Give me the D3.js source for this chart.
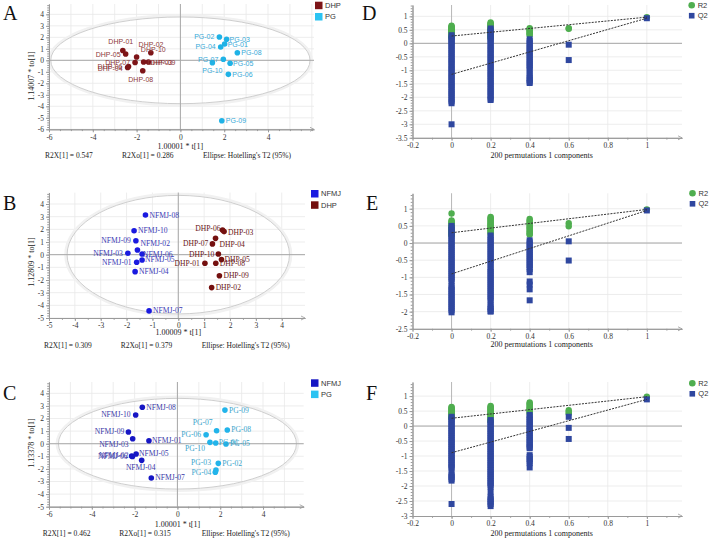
<!DOCTYPE html>
<html><head><meta charset="utf-8">
<script src="https://cdn.jsdelivr.net/npm/d3@7"></script>
<style>body{margin:0;background:#fff}svg{display:block}</style>
</head><body>
<svg id="c" width="709" height="538"></svg>
<script>
// ---------------- DATA ----------------
// Score plots (t[1], to[1])
const scoreA_DHP = [
 {id:"DHP-01",t:-2.63,to:0.85},{id:"DHP-05",t:-2.50,to:0.55},{id:"DHP-02",t:-2.00,to:0.29},
 {id:"DHP-10",t:-1.35,to:0.66},{id:"DHP-07",t:-2.07,to:-0.19},{id:"DHP-06",t:-2.37,to:-0.54},
 {id:"DHP-04",t:-2.41,to:-0.63},{id:"DHP-03",t:-1.68,to:-0.15},{id:"DHP-09",t:-1.46,to:-0.15},
 {id:"DHP-08",t:-1.72,to:-0.91}];
const scoreA_PG = [
 {id:"PG-02",t:1.78,to:2.03},{id:"PG-03",t:2.11,to:1.83},{id:"PG-01",t:2.02,to:1.42},
 {id:"PG-04",t:1.84,to:1.16},{id:"PG-08",t:2.60,to:0.66},{id:"PG-07",t:1.96,to:0.09},
 {id:"PG-10",t:1.46,to:-0.20},{id:"PG-05",t:2.27,to:-0.26},{id:"PG-06",t:2.19,to:-1.22},
 {id:"PG-09",t:1.89,to:-5.25}];
const scoreB_NFMJ = [
 {id:"NFMJ-08",t:-1.27,to:3.13},{id:"NFMJ-10",t:-1.71,to:1.89},{id:"NFMJ-09",t:-1.64,to:1.10},
 {id:"NFMJ-02",t:-1.58,to:0.37},{id:"NFMJ-06",t:-1.40,to:0.05},{id:"NFMJ-03",t:-1.95,to:0.11},
 {id:"NFMJ-01",t:-1.61,to:-0.60},{id:"NFMJ-05",t:-1.40,to:-0.42},{id:"NFMJ-04",t:-1.67,to:-1.34},
 {id:"NFMJ-07",t:-1.13,to:-4.44}];
const scoreB_DHP = [
 {id:"DHP-06",t:1.71,to:1.95},{id:"DHP-03",t:1.77,to:1.82},{id:"DHP-04",t:1.44,to:1.29},
 {id:"DHP-07",t:1.32,to:0.85},{id:"DHP-10",t:1.55,to:0.05},{id:"DHP-05",t:1.67,to:-0.39},
 {id:"DHP-08",t:1.45,to:-0.68},{id:"DHP-01",t:1.03,to:-0.68},{id:"DHP-09",t:1.59,to:-1.66},
 {id:"DHP-02",t:1.29,to:-2.60}];
const scoreC_NFMJ = [
 {id:"NFMJ-08",t:-1.64,to:2.89},{id:"NFMJ-10",t:-1.95,to:2.28},{id:"NFMJ-09",t:-2.29,to:0.93},
 {id:"NFMJ-03",t:-2.09,to:0.40},{id:"NFMJ-01",t:-1.33,to:0.24},{id:"NFMJ-06",t:-2.14,to:-0.98},
 {id:"NFMJ-02",t:-2.10,to:-1.02},{id:"NFMJ-05",t:-1.93,to:-0.82},{id:"NFMJ-04",t:-1.67,to:-1.32},
 {id:"NFMJ-07",t:-1.22,to:-2.72}];
const scoreC_PG = [
 {id:"PG-09",t:2.22,to:2.67},{id:"PG-07",t:1.83,to:1.03},{id:"PG-08",t:2.33,to:1.09},
 {id:"PG-06",t:1.34,to:0.71},{id:"PG-10",t:1.52,to:0.11},{id:"PG-01",t:1.79,to:0.06},
 {id:"PG-05",t:2.27,to:-0.02},{id:"PG-02",t:1.91,to:-1.56},{id:"PG-03",t:1.80,to:-2.10},
 {id:"PG-04",t:1.77,to:-2.26}];

const ticksA_x = [-6,-4,-2,0,2,4], ticksA_y = [-6,-5,-4,-3,-2,-1,0,1,2,3,4];
const ticksB_x = [-5,-4,-3,-2,-1,0,1,2,3,4], ticksB_y = [-5,-4,-3,-2,-1,0,1,2,3,4];
const ticksC_x = [-6,-4,-2,0,2,4], ticksC_y = [-5,-4,-3,-2,-1,0,1,2,3,4];

const footA = ["R2X[1] = 0.547","R2Xo[1] = 0.286","Ellipse: Hotelling's T2 (95%)"];
const footB = ["R2X[1] = 0.309","R2Xo[1] = 0.379","Ellipse: Hotelling's T2 (95%)"];
const footC = ["R2X[1] = 0.462","R2Xo[1] = 0.315","Ellipse: Hotelling's T2 (95%)"];
const ellipseA = [5.92, 3.77], ellipseB = [4.3, 4.68], ellipseC = [5.56, 3.6];

// Permutation plots
const permX = [0, 0.2, 0.4, 0.6, 1];
const permTicksX = [-0.2, 0, 0.2, 0.4, 0.6, 0.8, 1];
const D_R2 = [
 [0.65,0.62,0.60,0.57,0.55,0.52,0.50,0.48,0.46,0.44,0.42,0.40,0.38,0.35,0.33,0.30,0.28,0.25,0.22,0.20],
 [0.77,0.74,0.71,0.68,0.65,0.62,0.58,0.55,0.52,0.48,0.45,0.42,0.38,0.35,0.32,0.28,0.25,0.22,0.19],
 [0.56,0.52,0.48,0.45,0.41,0.37,0.33,0.31],
 [0.56,0.54],
 [0.97]];
const D_Q2 = [
 [0.30,0.22,0.15,0.08,0.02,-0.05,-0.12,-0.20,-0.27,-0.35,-0.42,-0.50,-0.58,-0.65,-0.72,-0.80,-0.88,-0.95,-1.02,-1.10,-1.18,-1.25,-1.32,-1.40,-1.48,-1.55,-1.62,-1.70,-1.78,-1.85,-1.92,-2.00,-2.08,-2.15,-2.22,-3.00],
 [0.55,0.48,0.42,0.35,0.28,0.20,0.13,0.06,-0.02,-0.10,-0.18,-0.25,-0.33,-0.40,-0.48,-0.55,-0.62,-0.70,-0.78,-0.85,-0.92,-1.00,-1.08,-1.15,-1.22,-1.30,-1.38,-1.45,-1.52,-1.60,-1.68,-1.75,-1.82,-1.90,-1.97,-2.05,-2.10],
 [0.15,0.08,0.00,-0.08,-0.15,-0.22,-0.30,-0.37,-0.45,-0.52,-0.60,-0.68,-0.75,-0.82,-0.90,-0.98,-1.12,-1.20,-1.30,-1.36,-1.42,-1.47],
 [-0.05,-0.62],
 [0.93]];
const D_lines = {r2:[0.27,0.97], q2:[-1.15,0.93]};
const D_ticksY = [-3.5,-3,-2.5,-2,-1.5,-1,-0.5,0,0.5,1];

const E_R2 = [
 [0.86,0.66,0.63,0.60,0.57,0.54,0.51,0.48,0.45,0.42,0.39,0.36,0.33,0.30,0.27,0.24,0.22],
 [0.76,0.73,0.70,0.67,0.64,0.61,0.58,0.55,0.52,0.49,0.46,0.43,0.40,0.37,0.34,0.30,0.27],
 [0.70,0.66,0.62,0.58,0.54,0.50,0.46,0.42,0.38,0.34,0.30,0.26,0.24],
 [0.58,0.49],
 [0.98]];
const E_Q2 = [
 [0.50,0.44,0.38,0.32,0.26,0.20,0.14,0.08,0.02,-0.04,-0.10,-0.16,-0.22,-0.28,-0.34,-0.40,-0.46,-0.52,-0.58,-0.64,-0.70,-0.76,-0.82,-0.88,-0.94,-1.00,-1.06,-1.12,-1.25,-1.30,-1.36,-1.42,-1.48,-1.54,-1.60,-1.66,-1.72,-1.78,-1.84,-1.90,-1.96,-2.02],
 [0.22,0.16,0.10,0.04,-0.02,-0.08,-0.14,-0.20,-0.26,-0.32,-0.38,-0.44,-0.50,-0.56,-0.62,-0.72,-0.78,-0.84,-0.90,-0.96,-1.02,-1.08,-1.14,-1.20,-1.26,-1.32,-1.38,-1.44,-1.50,-1.56,-1.62,-1.68,-1.80,-1.86,-1.92,-1.98,-2.00],
 [0.08,0.02,-0.04,-0.10,-0.16,-0.22,-0.28,-0.34,-0.40,-0.46,-0.52,-0.58,-0.64,-0.70,-0.76,-0.85,-1.12,-1.21,-1.35,-1.67],
 [0.05,-0.51],
 [0.95]];
const E_lines = {r2:[0.30,0.98], q2:[-0.90,0.95]};
const E_ticksY = [-2.5,-2,-1.5,-1,-0.5,0,0.5,1];

const F_R2 = [
 [0.64,0.61,0.58,0.55,0.52,0.49,0.46,0.43,0.40,0.37,0.34,0.31,0.28,0.26],
 [0.67,0.64,0.61,0.58,0.55,0.52,0.49,0.46,0.43,0.40,0.37,0.34,0.31,0.28,0.25,0.22,0.18,0.14],
 [0.79,0.75,0.71,0.67,0.63,0.59,0.55,0.51,0.47,0.43],
 [0.53,0.47,0.42],
 [0.98]];
const F_Q2 = [
 [0.31,0.25,0.19,0.13,0.07,0.01,-0.05,-0.11,-0.17,-0.23,-0.29,-0.35,-0.41,-0.47,-0.53,-0.59,-0.65,-0.71,-0.77,-0.83,-0.89,-0.95,-1.01,-1.07,-1.13,-1.19,-1.25,-1.31,-1.37,-1.41,-1.58,-1.64,-1.70,-1.76,-1.82,-2.60],
 [0.20,0.14,0.08,0.02,-0.04,-0.10,-0.16,-0.22,-0.28,-0.34,-0.40,-0.46,-0.52,-0.58,-0.64,-0.70,-0.76,-0.82,-0.88,-0.94,-1.00,-1.06,-1.12,-1.18,-1.24,-1.30,-1.36,-1.42,-1.48,-1.54,-1.60,-1.66,-1.72,-1.78,-1.84,-1.90,-1.96,-2.02,-2.19,-2.36,-2.42,-2.48,-2.54,-2.60,-2.67],
 [0.37,0.31,0.25,0.19,0.13,0.07,0.01,-0.05,-0.11,-0.17,-0.23,-0.29,-0.35,-0.41,-0.47,-0.53,-0.59,-0.65,-0.71,-0.74,-0.97,-1.03,-1.10,-1.17,-1.24,-1.38],
 [0.31,-0.06,-0.43],
 [0.89]];
const F_lines = {r2:[0.26,0.98], q2:[-0.89,0.89]};
const F_ticksY = [-3,-2.5,-2,-1.5,-1,-0.5,0,0.5,1];

// ---------------- LAYOUT (label offsets: dx, dy, anchor) ----------------
const labA = {
 "DHP-01":[-2,-9,"middle"],"DHP-05":[-5,0,"end"],"DHP-02":[2,-12,"start"],"DHP-10":[-10,-3,"start"],
 "DHP-07":[-5,0,"end"],"DHP-06":[-6,0,"end"],"DHP-04":[-5,1,"end"],"DHP-03":[4,0,"start"],
 "DHP-09":[2,0,"start"],"DHP-08":[-2,8.5,"middle"],
 "PG-02":[-5,0,"end"],"PG-03":[3,0,"start"],"PG-01":[3,0,"start"],"PG-04":[-5,0,"end"],
 "PG-08":[4,0,"start"],"PG-07":[-5,0,"end"],"PG-10":[0,7.5,"middle"],"PG-05":[3,0,"start"],
 "PG-06":[4,0,"start"],"PG-09":[4,0,"start"]};
const labB = {
 "NFMJ-09":[-5,0,"end"],"NFMJ-02":[3,-6.5,"start"],"NFMJ-06":[1,0,"start"],"NFMJ-03":[-5,0,"end"],
 "NFMJ-01":[-5,0,"end"],"NFMJ-05":[3,0,"start"],
 "DHP-06":[-2,-1,"end"],"DHP-03":[4,0.5,"start"],"DHP-04":[4,6,"start"],"DHP-07":[-4,0,"end"],
 "DHP-10":[-4,0,"end"],"DHP-05":[3,-0.5,"start"],"DHP-08":[4,0,"start"],"DHP-01":[-5,0,"end"]};
const labC = {
 "NFMJ-10":[-5,-0.5,"end"],"NFMJ-09":[-4,-1,"end"],"NFMJ-03":[-4,6,"end"],"NFMJ-01":[3,-0.5,"start"],
 "NFMJ-06":[-4,0,"end"],"NFMJ-02":[-4,-1,"end"],"NFMJ-05":[3,-0.5,"start"],"NFMJ-04":[-1,7,"middle"],
 "PG-07":[-4,-8,"end"],"PG-06":[-5,0,"end"],"PG-10":[-5,6,"end"],"PG-01":[3,0,"start"],
 "PG-05":[4,0,"start"],"PG-03":[-5,-8,"end"],"PG-04":[-4,0,"end"]};

const SERIF = "'Liberation Serif','Times New Roman',serif";
const SANS = "'Liberation Sans',Arial,sans-serif";
const svg = d3.select("#c");

function letter(txt, x, y){
  svg.append("text").attr("x",x).attr("y",y).text(txt)
    .attr("font-family",SERIF).attr("font-size",20).attr("fill","#111");
}

function grid(g, x, y, p, gridX, gridY){
  g.selectAll(null).data(gridX).join("line")
    .attr("x1",d=>x(d)).attr("x2",d=>x(d)).attr("y1",p.t).attr("y2",p.b)
    .attr("stroke","#e8e8e8").attr("stroke-width",0.8);
  g.selectAll(null).data(gridY).join("line")
    .attr("y1",d=>y(d)).attr("y2",d=>y(d)).attr("x1",p.l).attr("x2",p.r)
    .attr("stroke","#e8e8e8").attr("stroke-width",0.8);
}

function axes(g, x, y, p, xTicks, yTicks, xMinor, yMinor){
  const fmt = d=>String(d);
  g.append("g").attr("transform",`translate(0,${p.b})`)
    .call(d3.axisBottom(x).tickValues(xTicks).tickFormat(fmt).tickSize(3).tickSizeOuter(0).tickPadding(2));
  g.append("g").attr("transform",`translate(0,${p.b})`)
    .call(d3.axisBottom(x).tickValues(xMinor).tickFormat("").tickSize(1.8).tickSizeOuter(0));
  g.append("g").attr("transform",`translate(${p.l},0)`)
    .call(d3.axisLeft(y).tickValues(yTicks).tickFormat(fmt).tickSize(3).tickSizeOuter(0).tickPadding(2));
  g.append("g").attr("transform",`translate(${p.l},0)`)
    .call(d3.axisLeft(y).tickValues(yMinor).tickFormat("").tickSize(1.8).tickSizeOuter(0));
  g.selectAll(".domain").attr("stroke","#9a9a9a");
  g.selectAll(".tick line").attr("stroke","#9a9a9a");
  g.selectAll(".tick text").attr("font-family",SERIF).attr("font-size",7.5).attr("fill","#333");
  g.append("path").attr("d",`M${p.r-4},${p.b-2}L${p.r},${p.b}L${p.r-4},${p.b+2}`)
    .attr("fill","none").attr("stroke","#9a9a9a").attr("stroke-width",0.8);
}

function minorList(d0,d1,step){
  const out=[]; const n=Math.round((d1-d0)/step);
  for(let i=0;i<=n;i++){ out.push(+(d0+i*step).toFixed(3)); }
  return out;
}

function scorePanel(p){
  const g = svg.append("g");
  const x = d3.scaleLinear().domain(p.xd).range([p.l,p.r]);
  const y = d3.scaleLinear().domain(p.yd).range([p.b,p.t]);
  const gridX = d3.range(Math.ceil(p.xd[0]), Math.floor(p.xd[1])+1);
  const gridY = d3.range(Math.ceil(p.yd[0]), Math.floor(p.yd[1])+1);
  grid(g,x,y,p,gridX,gridY);
  const cx=x(0), cy=y(0), rx=x(p.ell[0])-x(0), ry=y(0)-y(p.ell[1]);
  const clipId = "clip"+p.letter;
  svg.append("clipPath").attr("id",clipId).append("rect")
    .attr("x",p.l).attr("y",p.t).attr("width",p.r-p.l).attr("height",p.b-p.t);
  const eg = g.append("g").attr("clip-path",`url(#${clipId})`);
  eg.append("ellipse").attr("cx",cx).attr("cy",cy).attr("rx",rx+1.6).attr("ry",ry+1.6)
    .attr("fill","none").attr("stroke","#f1f1f1").attr("stroke-width",2.5);
  eg.append("ellipse").attr("cx",cx).attr("cy",cy).attr("rx",rx).attr("ry",ry)
    .attr("fill","none").attr("stroke","#c8c8c8").attr("stroke-width",0.9);
  g.append("line").attr("x1",p.l).attr("x2",p.r).attr("y1",cy).attr("y2",cy).attr("stroke","#a8a8a8").attr("stroke-width",1);
  g.append("line").attr("x1",cx).attr("x2",cx).attr("y1",p.t).attr("y2",p.b).attr("stroke","#a8a8a8").attr("stroke-width",1);
  axes(g,x,y,p,p.xTicks,p.yTicks,minorList(p.xd[0],Math.floor(p.xd[1]),p.xMinorStep),minorList(p.yd[0],Math.floor(p.yd[1]*5)/5,0.2));
  p.series.forEach(s=>{
    g.selectAll(null).data(s.data).join("circle")
      .attr("cx",d=>x(d.t)).attr("cy",d=>y(d.to)).attr("r",2.8).attr("fill",s.color);
    g.selectAll(null).data(s.data).join("text")
      .attr("x",d=>x(d.t)+((p.lab[d.id]||[4,0,"start"])[0]))
      .attr("y",d=>y(d.to)+((p.lab[d.id]||[4,0,"start"])[1]))
      .attr("text-anchor",d=>(p.lab[d.id]||[4,0,"start"])[2])
      .attr("dominant-baseline","central")
      .attr("font-family",p.labFont).attr("font-size",p.labSize).attr("fill",s.labColor)
      .text(d=>d.id);
  });
  p.series.forEach((s,i)=>{
    g.append("rect").attr("x",p.leg[0]).attr("y",p.leg[1]+i*11.3).attr("width",7.5).attr("height",7.5).attr("fill",s.legColor||s.color);
    g.append("text").attr("x",p.leg[0]+10).attr("y",p.leg[1]+i*11.3+3.9).attr("dominant-baseline","central")
      .attr("font-family",SANS).attr("font-size",7.5).attr("fill","#333").text(s.name);
  });
  g.append("text").attr("x",x(0)).attr("y",p.xlabY).attr("text-anchor","middle")
    .attr("font-family",SERIF).attr("font-size",8).attr("fill","#222").text(p.xLabel);
  g.append("text").attr("transform",`translate(${p.ylabX},${p.ylabC}) rotate(-90)`).attr("text-anchor","middle")
    .attr("font-family",SERIF).attr("font-size",8).attr("fill","#222").text(p.yLabel);
  p.foot.forEach((f,i)=>{
    g.append("text").attr("x",p.footX[i]).attr("y",p.footY)
      .attr("font-family",SERIF).attr("font-size",7.5).attr("fill","#222").text(f);
  });
  letter(p.letter, p.letPos[0], p.letPos[1]);
}

function permPanel(p){
  const g = svg.append("g");
  const x = d3.scaleLinear().domain(p.xd).range([p.l,p.r]);
  const y = d3.scaleLinear().domain(p.yd).range([p.b,p.t]);
  grid(g,x,y,p,permTicksX.slice(1),p.yTicks.slice(1));
  g.append("line").attr("x1",p.l).attr("x2",p.r).attr("y1",y(0)).attr("y2",y(0)).attr("stroke","#a8a8a8").attr("stroke-width",1);
  g.append("line").attr("x1",x(0)).attr("x2",x(0)).attr("y1",p.t).attr("y2",p.b).attr("stroke","#b8b8b8").attr("stroke-width",1);
  axes(g,x,y,p,permTicksX,p.yTicks,minorList(-0.2,1.1,0.1),minorList(p.yd[0],1.4,0.1));
  const green="#4fae4f", blue="#2f479f";
  p.r2.forEach((col,i)=>{
    g.selectAll(null).data(col).join("circle")
      .attr("cx",x(permX[i])).attr("cy",d=>y(d)).attr("r",3.2).attr("fill",green);
  });
  p.q2.forEach((col,i)=>{
    g.selectAll(null).data(col).join("rect")
      .attr("x",x(permX[i])-3).attr("y",d=>y(d)-3).attr("width",6).attr("height",6).attr("fill",blue);
  });
  [p.lines.r2,p.lines.q2].forEach(L=>{
    g.append("line").attr("x1",x(0)).attr("y1",y(L[0])).attr("x2",x(1)).attr("y2",y(L[1]))
      .attr("stroke","#333").attr("stroke-width",1).attr("stroke-dasharray","2,1.2");
  });
  g.append("circle").attr("cx",p.leg[0]).attr("cy",p.leg[1]).attr("r",3.3).attr("fill",green);
  g.append("rect").attr("x",p.leg[0]-2.8).attr("y",p.leg[1]+10.5-2.8).attr("width",5.6).attr("height",5.6).attr("fill",blue);
  g.append("text").attr("x",p.leg[0]+6).attr("y",p.leg[1]).attr("dominant-baseline","central")
    .attr("font-family",SANS).attr("font-size",7.5).attr("fill","#333").text("R2");
  g.append("text").attr("x",p.leg[0]+6).attr("y",p.leg[1]+10.5).attr("dominant-baseline","central")
    .attr("font-family",SANS).attr("font-size",7.5).attr("fill","#333").text("Q2");
  g.append("text").attr("x",541.7).attr("y",p.xlabY).attr("text-anchor","middle")
    .attr("font-family",SERIF).attr("font-size",8).attr("fill","#222").text("200 permutations 1 components");
  letter(p.letter, p.letPos[0], p.letPos[1]);
}

scorePanel({letter:"A",letPos:[3,20],l:49,r:314,t:4,b:129.3,xd:[-6,6.1],yd:[-6,4.9],
  xTicks:ticksA_x,yTicks:ticksA_y,xMinorStep:0.5,ell:ellipseA,lab:labA,labFont:SANS,labSize:7,
  series:[{name:"DHP",data:scoreA_DHP,color:"#7d1518",labColor:"#8e3b3b"},
          {name:"PG",data:scoreA_PG,color:"#1fb2e6",labColor:"#36a9d8",legColor:"#2bc3f2"}],
  leg:[315,1.7],xLabel:"1.00001 * t[1]",xlabY:148.5,yLabel:"1.14007 * to[1]",ylabX:34,ylabC:76,
  foot:footA,footX:[45,122,203],footY:158});
scorePanel({letter:"B",letPos:[3,210],l:49,r:305,t:192.6,b:318,xd:[-5,4.9],yd:[-5,4.9],
  xTicks:ticksB_x,yTicks:ticksB_y,xMinorStep:0.5,ell:ellipseB,lab:labB,labFont:SERIF,labSize:7.6,
  series:[{name:"NFMJ",data:scoreB_NFMJ,color:"#1a1ae0",labColor:"#3a3ab4"},
          {name:"DHP",data:scoreB_DHP,color:"#74100f",labColor:"#6a1616"}],
  leg:[311,190],xLabel:"1.00009 * t[1]",xlabY:334.5,yLabel:"1.12809 * to[1]",ylabX:34,ylabC:262,
  foot:footB,footX:[44,120.7,201.7],footY:348});
scorePanel({letter:"C",letPos:[3,400],l:49,r:303.7,t:382,b:506.7,xd:[-6,5.9],yd:[-5,4.9],
  xTicks:ticksC_x,yTicks:ticksC_y,xMinorStep:0.5,ell:ellipseC,lab:labC,labFont:SERIF,labSize:7.6,
  series:[{name:"NFMJ",data:scoreC_NFMJ,color:"#1616c4",labColor:"#3a3aa8"},
          {name:"PG",data:scoreC_PG,color:"#22b4ea",labColor:"#3aa4cc",legColor:"#2bc3f2"}],
  leg:[311,379.3],xLabel:"1.00001 * t[1]",xlabY:527,yLabel:"1.13378 * to[1]",ylabX:34,ylabC:443,
  foot:footC,footX:[42.7,119.3,201.7],footY:536});

permPanel({letter:"D",letPos:[362,20],l:412.5,r:682,t:5,b:137.8,xd:[-0.2,1.18],yd:[-3.5,1.42],
  yTicks:D_ticksY,r2:D_R2,q2:D_Q2,lines:D_lines,leg:[691.7,5.2],xlabY:158});
permPanel({letter:"E",letPos:[366,210],l:412.5,r:682,t:193.3,b:328.8,xd:[-0.2,1.18],yd:[-2.5,1.45],
  yTicks:E_ticksY,r2:E_R2,q2:E_Q2,lines:E_lines,leg:[692.5,193.3],xlabY:347});
permPanel({letter:"F",letPos:[366,400],l:412.5,r:682,t:382,b:516,xd:[-0.2,1.18],yd:[-3,1.47],
  yTicks:F_ticksY,r2:F_R2,q2:F_Q2,lines:F_lines,leg:[692.3,383.3],xlabY:535.5});
</script>
</body></html>
